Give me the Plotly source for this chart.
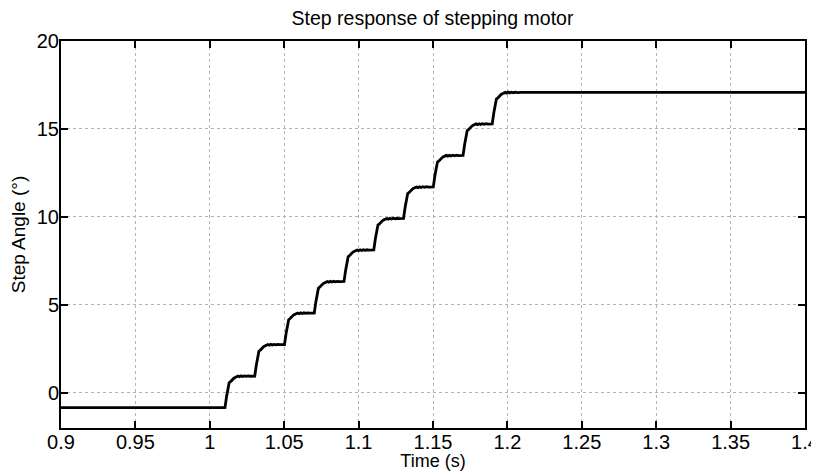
import plotly.graph_objects as go

# --- data ---
start_level = -0.84          # initial angle (deg)
step_times = [1.0102, 1.0302, 1.0502, 1.0702, 1.0902, 1.1102, 1.1302, 1.1502, 1.1702, 1.1898]
step_size = 1.792            # deg per step
# shape of one step: (time after step start [s], rise above previous level [deg])
profile_dt = [0.0, 0.0011, 0.0022, 0.0028, 0.0036, 0.0044, 0.0052, 0.0060, 0.0068,
              0.0078, 0.0088, 0.0098, 0.0108, 0.0118, 0.0130, 0.0142, 0.0155, 0.0168, 0.0182, 0.0196]
profile_dy = [0.0, 0.65, 1.30, 1.42, 1.47, 1.55, 1.60, 1.68, 1.72,
              1.77, 1.80, 1.76, 1.81, 1.77, 1.81, 1.78, 1.81, 1.79, 1.80, 1.80]
t_start, t_end = 0.9, 1.4
x_ticks = [0.9, 0.95, 1.0, 1.05, 1.1, 1.15, 1.2, 1.25, 1.3, 1.35, 1.4]
x_tick_text = ["0.9", "0.95", "1", "1.05", "1.1", "1.15", "1.2", "1.25", "1.3", "1.35", "1.4"]
y_ticks = [0, 5, 10, 15, 20]

# build trace from the read values
t = [t_start]
y = [start_level]
level = start_level
for ts in step_times:
    for dt, dy in zip(profile_dt, profile_dy):
        t.append(ts + dt)
        y.append(level + dy * step_size / 1.80)
    level = level + step_size
t.append(t_end)
y.append(level)

fig = go.Figure()
fig.add_trace(go.Scatter(x=t, y=y, mode="lines",
                         line=dict(color="black", width=2.8), showlegend=False))

font = "Liberation Sans, Arial, sans-serif"
axis_common = dict(
    showline=True, linecolor="black", linewidth=2, mirror="ticks",
    ticks="inside", ticklen=7, tickwidth=2, tickcolor="black",
    showgrid=True, gridcolor="#b4b4b4", griddash="dot", gridwidth=1,
    zeroline=False, automargin=False,
    tickfont=dict(family=font, size=20, color="black"),
)
fig.update_xaxes(range=[t_start, t_end], tickvals=x_ticks, ticktext=x_tick_text,
                 ticklabelstandoff=-5,
                 title=dict(text="Time (s)", font=dict(family=font, size=18, color="black"), standoff=4),
                 **axis_common)
fig.update_yaxes(range=[-2, 20], tickvals=y_ticks, ticklabelstandoff=-4,
                 title=dict(text="Step Angle (°)", font=dict(family=font, size=19, color="black"), standoff=6),
                 **axis_common)
# page body has an 8px margin: figure is sized to end exactly at the window edge
fig.update_layout(
    width=811, height=463,
    margin=dict(l=53, r=14, t=33, b=43),
    paper_bgcolor="white", plot_bgcolor="white",
    title=dict(text="Step response of stepping motor", x=0.5234, xref="container", xanchor="center",
               y=0.978, yref="container", yanchor="middle", font=dict(family=font, size=19.5, color="black")),
)
fig.write_html("out.html")
